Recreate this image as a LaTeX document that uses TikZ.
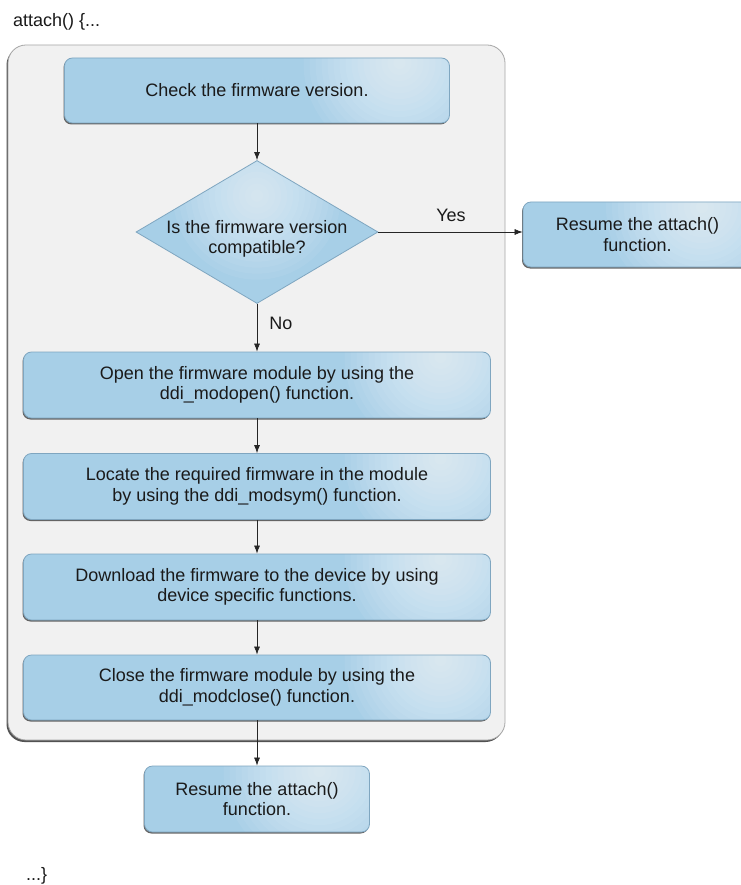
\documentclass[tikz,border=0pt]{standalone}
\usepackage{fontspec}
\setmainfont{Liberation Sans}
\usetikzlibrary{arrows.meta,shapes.geometric,shadows}
\definecolor{boxblue}{HTML}{A7CFE7}
\definecolor{boxedge}{HTML}{7FA6C0}
\definecolor{txt}{HTML}{1A1A1A}
\definecolor{panel}{HTML}{F1F1F1}
\begin{document}
\begin{tikzpicture}[x=1pt,y=-1pt, font=\fontsize{18}{20.5}\selectfont, text=txt,
  flowbox/.style={rectangle, rounded corners=8pt, draw=boxedge, line width=0.8pt,
    fill=boxblue, align=center, inner sep=0pt,
    drop shadow={shadow xshift=-1pt, shadow yshift=-1.5pt, fill=black!70, opacity=0.85},
    path picture={\foreach \r in {6,12,...,96}
      \fill[white, opacity=0.06]
      ([xshift=-50pt,yshift=-5pt]path picture bounding box.north east) circle[radius=\r pt];}},
  decision/.style={diamond, draw=boxedge, line width=0.8pt, fill=boxblue, inner sep=0pt,
    path picture={\foreach \r in {6,12,...,84}
      \fill[white, opacity=0.06]
      ([yshift=-35pt]path picture bounding box.north) circle[radius=\r pt];}},
  conn/.style={-{Latex[length=8pt,width=6pt]}, line width=0.7pt, draw=black!85},
  plain/.style={inner sep=0pt}
]
\useasboundingbox (0,0) rectangle (740,885);
\fill[white] (0,0) rectangle (740,885);

% container panel
\draw[draw=black!35, fill=panel, line width=0.8pt, rounded corners=18pt,
  drop shadow={shadow xshift=-1.5pt, shadow yshift=-2pt, fill=black!75, opacity=0.9}]
  (8,45) rectangle (505,740);

\node[plain, anchor=west] (hdr) at (13,22) {attach() \{...};
\node[plain, anchor=west] (ftr) at (26,876) {...\}};

\node[flowbox, minimum width=385pt, minimum height=65pt] (check) at (257,90.5)
  {Check the firmware version.};
\node[decision, minimum width=242pt, minimum height=143pt] (dec) at (257,232) {};
\node[plain, align=center] (dectext) at (257,239) {Is the firmware version\\compatible?};

\node[flowbox, minimum width=229pt, minimum height=65pt] (resume1) at (637.5,234.5)
  {Resume the attach()\\function.};

\node[flowbox, minimum width=467pt, minimum height=66pt] (open) at (257,385)
  {Open the firmware module by using the\\ddi\_modopen() function.};
\node[flowbox, minimum width=467pt, minimum height=66pt] (locate) at (257,486.5)
  {Locate the required firmware in the module\\by using the ddi\_modsym() function.};
\node[flowbox, minimum width=467pt, minimum height=66pt] (download) at (257,587)
  {Download the firmware to the device by using\\device specific functions.};
\node[flowbox, minimum width=467pt, minimum height=65pt] (close) at (257,687.5)
  {Close the firmware module by using the\\ddi\_modclose() function.};
\node[flowbox, minimum width=225pt, minimum height=66pt] (resume2) at (257,799)
  {Resume the attach()\\function.};

\node[plain] (yes) at (451,215) {Yes};
\node[plain] (no) at (281,323) {No};

\draw[conn] (check.south) -- (dec.north);
\draw[conn] (dec.east) -- (dec.east -| resume1.west);
\draw[conn] (dec.south) -- (open.north);
\draw[conn] (open.south) -- (locate.north);
\draw[conn] (locate.south) -- (download.north);
\draw[conn] (download.south) -- (close.north);
\draw[conn] (close.south) -- (resume2.north);
\end{tikzpicture}
\end{document}
